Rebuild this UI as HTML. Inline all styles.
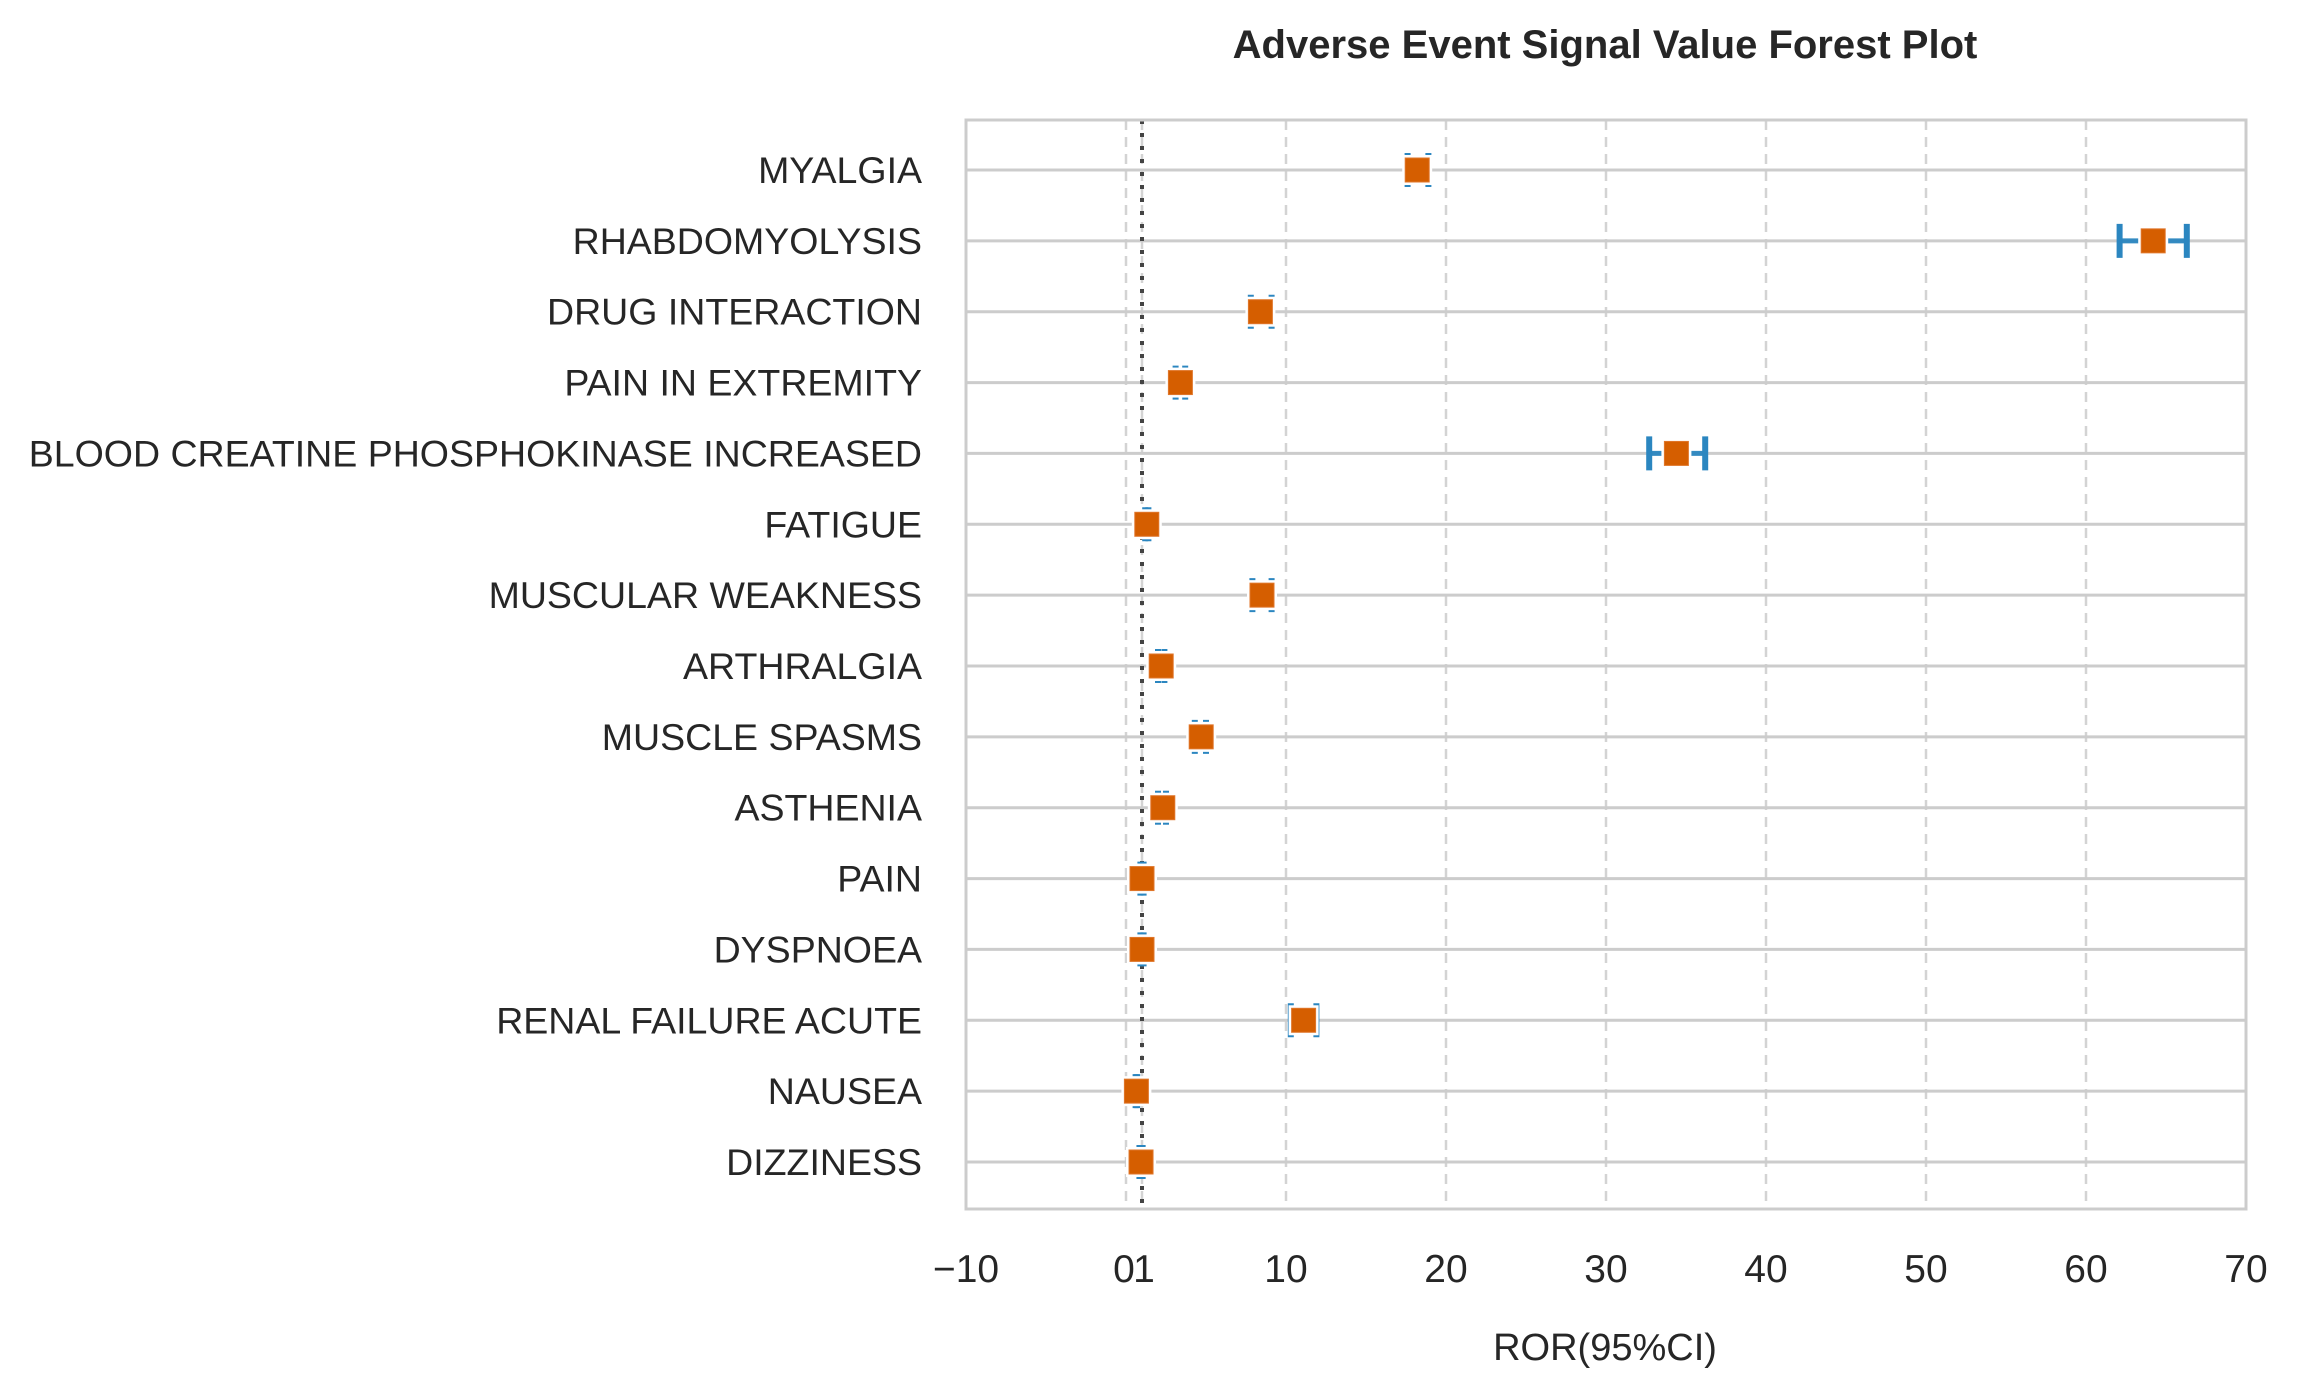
<!DOCTYPE html>
<html><head><meta charset="utf-8"><style>
html,body{margin:0;padding:0;background:#fff;}
svg{display:block;font-family:"Liberation Sans","DejaVu Sans",sans-serif;}
</style></head><body>
<svg id="chart" width="2300" height="1399" viewBox="0 0 2300 1399" xmlns="http://www.w3.org/2000/svg">
<rect x="0" y="0" width="2300" height="1399" fill="#fff"/>
<text x="1605" y="58" text-anchor="middle" font-size="40" font-weight="bold" fill="#262626">Adverse Event Signal Value Forest Plot</text>
<g id="grid"></g>
<g id="marks"></g>
<rect x="966" y="120" width="1280" height="1089" fill="none" stroke="#cccccc" stroke-width="3"/>
<text x="1605" y="1360" text-anchor="middle" font-size="38" fill="#262626">ROR(95%CI)</text>
</svg>
<script>
const categories = ["MYALGIA","RHABDOMYOLYSIS","DRUG INTERACTION","PAIN IN EXTREMITY","BLOOD CREATINE PHOSPHOKINASE INCREASED","FATIGUE","MUSCULAR WEAKNESS","ARTHRALGIA","MUSCLE SPASMS","ASTHENIA","PAIN","DYSPNOEA","RENAL FAILURE ACUTE","NAUSEA","DIZZINESS"];
const rorValues = [18.2,64.2,8.4,3.4,34.4,1.3,8.5,2.2,4.7,2.3,1.0,1.0,11.1,0.65,0.94];
const ciLower = [17.6,62.1,7.8,3.1,32.7,1.2,7.9,2.0,4.3,2.0,0.9,0.9,10.3,0.6,0.84];
const ciUpper = [18.9,66.3,9.1,3.7,36.2,1.4,9.1,2.4,5.0,2.5,1.1,1.1,11.9,0.7,1.04];
const xTicks = [-10,0,1,10,20,30,40,50,60,70];
const xTickLabels = ["\u221210","0","1","10","20","30","40","50","60","70"];
const refValue = 1;

const NS="http://www.w3.org/2000/svg";
const L=966,R=2246,T=120,B=1209;
const xMin=-10,xMax=70;
function xs(v){return L+(v-xMin)/(xMax-xMin)*(R-L);}
function ys(i){return 170+i*(1162-170)/(categories.length-1);}
function mk(tag,attrs,parent){const e=document.createElementNS(NS,tag);for(const k in attrs)e.setAttribute(k,attrs[k]);parent.appendChild(e);return e;}
const grid=document.getElementById('grid'),marks=document.getElementById('marks'),svg=document.getElementById('chart');

xTicks.forEach((t,i)=>{
  if(t>xMin&&t<xMax){
    const g=mk('line',{x1:xs(t),x2:xs(t),y1:T,y2:B,stroke:'#d3d3d3','stroke-width':2.5,'stroke-dasharray':'10,7'},grid);
    
    
  }
  const tx=mk('text',{x:xs(t)+(t===0?-2:t===1?2:0),y:1282,'text-anchor':'middle','font-size':39,fill:'#262626'},svg);
  tx.textContent=xTickLabels[i];
  
  
});
categories.forEach((c,i)=>{
  const y=ys(i);
  const gl=mk('line',{x1:L,x2:R,y1:y,y2:y,stroke:'#cccccc','stroke-width':3},grid);
  
  
  const t=mk('text',{x:922,y:y+13,'text-anchor':'end','font-size':37.5,fill:'#262626'},svg);
  t.textContent=c;
  
  
});
const ref=mk('line',{x1:xs(refValue),x2:xs(refValue),y1:T,y2:B,stroke:'#444','stroke-width':4,'stroke-dasharray':'4,9'},marks);


categories.forEach((c,i)=>{
  const y=ys(i),x0=xs(ciLower[i]),x1=xs(ciUpper[i]),xm=xs(rorValues[i]);
  const g=mk('g',{},marks);
  
  
  mk('line',{x1:x0,x2:x1,y1:y,y2:y,stroke:'#2b86c0','stroke-width':5,opacity:0.95},g);
  mk('line',{x1:x0,x2:x0,y1:y-17,y2:y+17,stroke:'#2b86c0','stroke-width':6},g);
  mk('line',{x1:x1,x2:x1,y1:y-17,y2:y+17,stroke:'#2b86c0','stroke-width':6},g);
  mk('rect',{x:xm-15,y:y-15,width:30,height:30,fill:'#fff'},g);
  const m=mk('rect',{x:xm-12,y:y-12,width:24,height:24,fill:'#d55e00',stroke:'#e0762a','stroke-width':1},g);
  
  
});
</script>
</body></html>
